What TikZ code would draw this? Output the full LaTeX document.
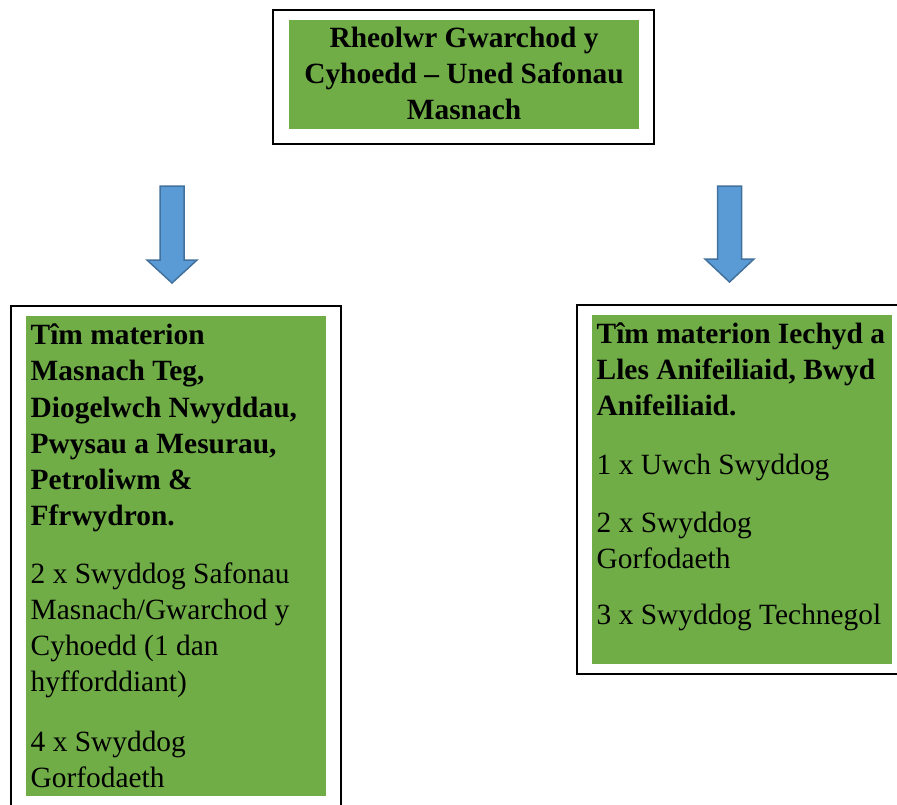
\documentclass[tikz,border=0pt]{standalone}
\usepackage{fontspec}
\setmainfont{Liberation Serif}
\definecolor{boxgreen}{HTML}{70AD47}
\definecolor{arrowfill}{HTML}{5B9BD5}
\definecolor{arrowline}{HTML}{41719C}
\tikzset{
  frame/.style={draw=black, line width=1.6pt, fill=white},
  greenfill/.style={fill=boxgreen, draw=none},
  downarrow/.style={fill=arrowfill, draw=arrowline, line width=1.5pt, line join=miter},
  hd/.style={anchor=base, inner sep=0pt, font=\fontsize{29.4}{36}\selectfont\bfseries},
  bd/.style={anchor=base west, inner sep=0pt, font=\fontsize{29.4}{36}\selectfont\bfseries},
  rg/.style={anchor=base west, inner sep=0pt, font=\fontsize{29.4}{36}\selectfont}
}
\begin{document}
\begin{tikzpicture}[x=1pt,y=-1pt]
\useasboundingbox (0,0) rectangle (897,804);
% top box
\draw[frame] (273,10) rectangle (654,144);
\fill[greenfill] (289,20) rectangle (639,129);
\node[hd] (t1) at (464,47) {Rheolwr Gwarchod y};
\node[hd] (t2) at (464,83) {Cyhoedd – Uned Safonau};
\node[hd] (t3) at (464,119) {Masnach};
% arrows
\draw[downarrow] (160,186) -- (184,186) -- (184,260) -- (197,260) -- (172,283) -- (147,260) -- (160,260) -- cycle;
\draw[downarrow] (717.5,186) -- (741.5,186) -- (741.5,259) -- (754,259) -- (729.5,282) -- (705,259) -- (717.5,259) -- cycle;
% left box
\draw[frame] (11,306) rectangle (341,815);
\fill[greenfill] (26,316) rectangle (326,796);
\node[bd] (l1) at (30.5,344) {Tîm materion};
\node[bd] (l2) at (30.5,380.5) {Masnach Teg,};
\node[bd] (l3) at (30.5,417) {Diogelwch Nwyddau,};
\node[bd] (l4) at (30.5,453) {Pwysau a Mesurau,};
\node[bd] (l5) at (30.5,489) {Petroliwm \&};
\node[bd] (l6) at (30.5,525) {Ffrwydron.};
\node[rg] (l7) at (30.5,583) {2 x Swyddog Safonau};
\node[rg] (l8) at (30.5,619) {Masnach/Gwarchod y};
\node[rg] (l9) at (30.5,655) {Cyhoedd (1 dan};
\node[rg] (l10) at (30.5,691) {hyfforddiant)};
\node[rg] (l11) at (30.5,751) {4 x Swyddog};
\node[rg] (l12) at (30.5,787) {Gorfodaeth};
% right box
\draw[frame] (577,305) rectangle (905,674);
\fill[greenfill] (592,315) rectangle (892,664);
\node[bd] (r1) at (596.5,343) {Tîm materion Iechyd a};
\node[bd] (r2) at (596.5,379) {Lles Anifeiliaid, Bwyd};
\node[bd] (r3) at (596.5,415) {Anifeiliaid.};
\node[rg] (r4) at (596.5,474) {1 x Uwch Swyddog};
\node[rg] (r5) at (596.5,532) {2 x Swyddog};
\node[rg] (r6) at (596.5,568) {Gorfodaeth};
\node[rg] (r7) at (596.5,624) {3 x Swyddog Technegol};
\end{tikzpicture}
\end{document}
